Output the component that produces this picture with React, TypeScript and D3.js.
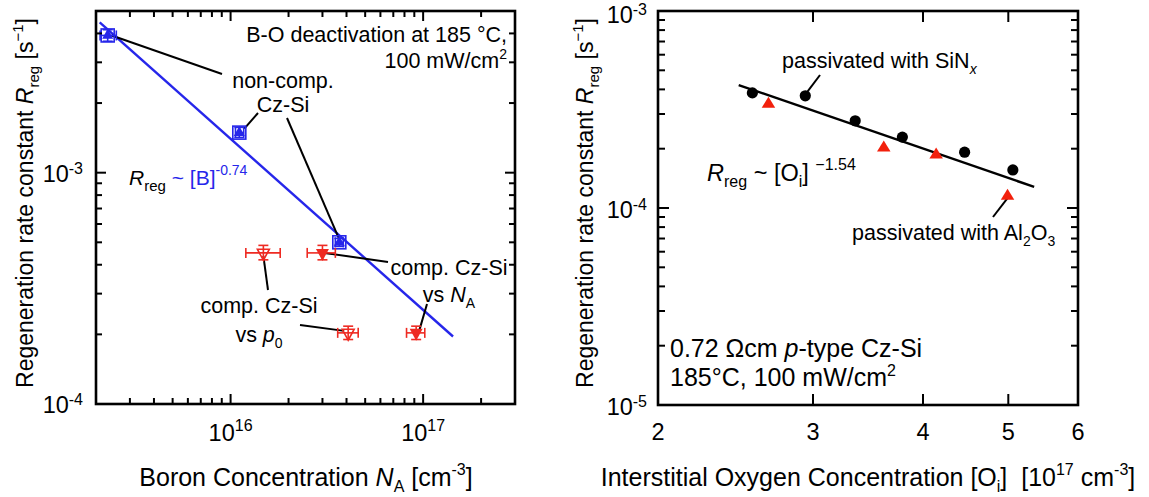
import React from "react";
import * as d3 from "d3";

// ---------- data: left panel (boron concentration dependence) ----------
const nonCompNA = [2.3e15, 1.11e16, 3.67e16];
const nonCompNALow = [2.1e15, 1.06e16, 3.5e16];
const nonCompNAHigh = [2.55e15, 1.17e16, 3.85e16];
const nonCompR = [3.92e-3, 1.49e-3, 5.0e-4];
const nonCompRLow = [3.7e-3, 1.42e-3, 4.8e-4];
const nonCompRHigh = [4.15e-3, 1.57e-3, 5.2e-4];

const compNA = [3.0e16, 9.2e16];
const compNALow = [2.5e16, 8.2e16];
const compNAHigh = [3.5e16, 1.02e17];
const compNAR = [4.5e-4, 2.03e-4];
const compNARLow = [4.2e-4, 1.9e-4];
const compNARHigh = [4.85e-4, 2.17e-4];

const compP0 = [1.48e16, 4.08e16];
const compP0Low = [1.2e16, 3.6e16];
const compP0High = [1.81e16, 4.6e16];
const compP0R = [4.5e-4, 2.03e-4];
const compP0RLow = [4.2e-4, 1.9e-4];
const compP0RHigh = [4.85e-4, 2.17e-4];

const boronFitExponent = -0.74;
const boronFitPrefactor = 9.7e8;
const boronFitRange = [2.09e15, 1.43e17];

const leftXDomain = [2e15, 3e17];
const leftYDomain = [1e-4, 5e-3];
const leftXTickLabels = [
  { v: 1e16, base: "10", exp: "16" },
  { v: 1e17, base: "10", exp: "17" },
];
const leftYTickLabels = [
  { v: 1e-3, base: "10", exp: "-3" },
  { v: 1e-4, base: "10", exp: "-4" },
];

// ---------- data: right panel (interstitial oxygen dependence) ----------
const sinxOi = [2.56, 2.94, 3.35, 3.79, 4.46, 5.06];
const sinxR = [3.84e-4, 3.71e-4, 2.77e-4, 2.29e-4, 1.92e-4, 1.56e-4];
const alOxOi = [2.67, 3.61, 4.14, 4.99];
const alOxR = [3.37e-4, 2.02e-4, 1.86e-4, 1.15e-4];

const oxygenFitExponent = -1.54;
const oxygenFitPrefactor = 1.694e-3;
const oxygenFitRange = [2.47, 5.35];

const rightXDomain = [2, 6];
const rightYDomain = [1e-5, 1e-3];
const rightXTicks = [3, 4, 5];
const rightXTickLabels = [2, 3, 4, 5, 6];
const rightYTickLabels = [
  { v: 1e-3, base: "10", exp: "-3" },
  { v: 1e-4, base: "10", exp: "-4" },
  { v: 1e-5, base: "10", exp: "-5" },
];

// ---------- style ----------
const FONT = "'Liberation Sans', Arial, Helvetica, sans-serif";
const BLUE = "#2626ea";
const RED = "#ee2a22";
const RED2 = "#f2200c";
const TICK_MAJOR = 10;
const TICK_MINOR = 6;
const TICK_FS = 23.5;
const TICK_SUP_FS = 16;
const AXIS_FS = 23;
const XLABEL_FS = 25;

type Box = { x0: number; x1: number; y0: number; y1: number };

function logTicks(domain: number[]) {
  const [lo, hi] = domain;
  const major: number[] = [];
  const minor: number[] = [];
  const eps = 1e-9;
  for (let e = Math.floor(Math.log10(lo)); e <= Math.ceil(Math.log10(hi)); e++) {
    for (let k = 1; k <= 9; k++) {
      const v = k * Math.pow(10, e);
      if (v < lo * (1 - eps) || v > hi * (1 + eps)) continue;
      (k === 1 ? major : minor).push(v);
    }
  }
  return { major, minor };
}

function Frame({ b }: { b: Box }) {
  return (
    <rect
      x={b.x0}
      y={b.y0}
      width={b.x1 - b.x0}
      height={b.y1 - b.y0}
      fill="none"
      stroke="#000"
      strokeWidth={2.6}
    />
  );
}

function TickMarks({
  b,
  xVals,
  yVals,
}: {
  b: Box;
  xVals: { x: number; len: number }[];
  yVals: { y: number; len: number }[];
}) {
  return (
    <g stroke="#000" strokeWidth={2}>
      {xVals.map((t, i) => (
        <g key={"x" + i}>
          <line x1={t.x} x2={t.x} y1={b.y1} y2={b.y1 - t.len} />
          <line x1={t.x} x2={t.x} y1={b.y0} y2={b.y0 + t.len} />
        </g>
      ))}
      {yVals.map((t, i) => (
        <g key={"y" + i}>
          <line x1={b.x0} x2={b.x0 + t.len} y1={t.y} y2={t.y} />
          <line x1={b.x1} x2={b.x1 - t.len} y1={t.y} y2={t.y} />
        </g>
      ))}
    </g>
  );
}

function triPath(cx: number, cy: number, w: number, h: number, down: boolean) {
  const s = down ? -1 : 1;
  return `M${cx},${cy - (s * 2 * h) / 3}L${cx - w / 2},${cy + (s * h) / 3}L${cx + w / 2},${cy + (s * h) / 3}Z`;
}

function ErrorBars({
  cx,
  cy,
  xl,
  xh,
  yl,
  yh,
  color,
}: {
  cx: number;
  cy: number;
  xl: number;
  xh: number;
  yl: number;
  yh: number;
  color: string;
}) {
  const cap = 5;
  return (
    <g stroke={color} strokeWidth={1.6} fill="none">
      <line x1={xl} x2={xh} y1={cy} y2={cy} />
      <line x1={xl} x2={xl} y1={cy - cap} y2={cy + cap} />
      <line x1={xh} x2={xh} y1={cy - cap} y2={cy + cap} />
      <line x1={cx} x2={cx} y1={yl} y2={yh} />
      <line x1={cx - cap} x2={cx + cap} y1={yl} y2={yl} />
      <line x1={cx - cap} x2={cx + cap} y1={yh} y2={yh} />
    </g>
  );
}

function YAxisTitle({ x, y }: { x: number; y: number }) {
  return (
    <text
      transform={`translate(${x},${y}) rotate(-90)`}
      fontFamily={FONT}
      fontSize={AXIS_FS}
      textAnchor="middle"
    >
      Regeneration rate constant <tspan fontStyle="italic">R</tspan>
      <tspan fontSize={15} dy={6}>reg</tspan>
      <tspan dy={-6}> [s</tspan>
      <tspan fontSize={15} dy={-10}>−1</tspan>
      <tspan dy={10}>]</tspan>
    </text>
  );
}

function LeftPanel() {
  const b: Box = { x0: 96, x1: 515, y0: 11, y1: 404 };
  const x = d3.scaleLog().domain(leftXDomain).range([b.x0, b.x1]);
  const y = d3.scaleLog().domain(leftYDomain).range([b.y1, b.y0]);
  const xt = logTicks(leftXDomain);
  const yt = logTicks(leftYDomain);
  const xMarks = [
    ...xt.major.map((v) => ({ x: x(v), len: TICK_MAJOR })),
    ...xt.minor.map((v) => ({ x: x(v), len: TICK_MINOR })),
  ];
  const yMarks = [
    ...yt.major.map((v) => ({ y: y(v), len: TICK_MAJOR })),
    ...yt.minor.map((v) => ({ y: y(v), len: TICK_MINOR })),
  ];

  const fit = d3
    .line<number>()
    .x((d) => x(d))
    .y((d) => y(boronFitPrefactor * Math.pow(d, boronFitExponent)));

  const leader = { stroke: "#000", strokeWidth: 2 };

  return (
    <g>
      {/* power-law fit */}
      <path d={fit(boronFitRange) || ""} stroke={BLUE} strokeWidth={2.4} fill="none" />

      {/* leader lines for annotations */}
      <line x1={x(nonCompNA[0]) + 4} y1={y(nonCompR[0])} x2={222} y2={74} {...leader} />
      <line x1={x(nonCompNA[1]) + 5} y1={y(nonCompR[1]) - 4} x2={258} y2={113} {...leader} />
      <line x1={287} y1={118} x2={x(nonCompNA[2])} y2={y(nonCompR[2]) - 3} {...leader} />
      <line x1={388} y1={262} x2={x(compNA[0]) + 2} y2={y(compNAR[0])} {...leader} />
      <line x1={427} y1={304} x2={x(compNA[1]) + 3} y2={y(compNAR[1]) - 2} {...leader} />
      <line x1={268} y1={290} x2={x(compP0[0])} y2={y(compP0R[0]) + 3} {...leader} />
      <line x1={300} y1={325} x2={x(compP0[1]) - 4} y2={y(compP0R[1]) - 2} {...leader} />

      {/* non-compensated Cz-Si */}
      {nonCompNA.map((v, i) => {
        const cx = x(v);
        const cy = y(nonCompR[i]);
        return (
          <g key={"nc" + i}>
            <ErrorBars
              cx={cx}
              cy={cy}
              xl={x(nonCompNALow[i])}
              xh={x(nonCompNAHigh[i])}
              yl={y(nonCompRLow[i])}
              yh={y(nonCompRHigh[i])}
              color={BLUE}
            />
            <rect x={cx - 6.5} y={cy - 6.5} width={13} height={13} fill="none" stroke={BLUE} strokeWidth={1.6} />
            <path d={triPath(cx, cy, 11, 10, false)} fill={BLUE} />
          </g>
        );
      })}

      {/* compensated Cz-Si vs p0 (open) */}
      {compP0.map((v, i) => {
        const cx = x(v);
        const cy = y(compP0R[i]);
        return (
          <g key={"p0" + i}>
            <ErrorBars
              cx={cx}
              cy={cy}
              xl={x(compP0Low[i])}
              xh={x(compP0High[i])}
              yl={y(compP0RLow[i])}
              yh={y(compP0RHigh[i])}
              color={RED}
            />
            <path d={triPath(cx, cy, 12, 11, true)} fill="none" stroke={RED} strokeWidth={1.6} />
          </g>
        );
      })}

      {/* compensated Cz-Si vs NA (filled) */}
      {compNA.map((v, i) => {
        const cx = x(v);
        const cy = y(compNAR[i]);
        return (
          <g key={"na" + i}>
            <ErrorBars
              cx={cx}
              cy={cy}
              xl={x(compNALow[i])}
              xh={x(compNAHigh[i])}
              yl={y(compNARLow[i])}
              yh={y(compNARHigh[i])}
              color={RED}
            />
            <path d={triPath(cx, cy, 13, 12, true)} fill={RED} />
          </g>
        );
      })}

      <Frame b={b} />
      <TickMarks b={b} xVals={xMarks} yVals={yMarks} />

      {/* tick labels */}
      <g fontFamily={FONT} fill="#000">
        {leftXTickLabels.map((t) => (
          <text key={t.exp} x={x(t.v)} y={441} fontSize={TICK_FS} textAnchor="middle">
            {t.base}
            <tspan fontSize={TICK_SUP_FS} dy={-10}>
              {t.exp}
            </tspan>
          </text>
        ))}
        {leftYTickLabels.map((t) => (
          <text key={t.exp} x={83} y={y(t.v) + 9} fontSize={TICK_FS} textAnchor="end">
            {t.base}
            <tspan fontSize={TICK_SUP_FS} dy={-8}>
              {t.exp}
            </tspan>
          </text>
        ))}
      </g>

      {/* axis titles */}
      <text x={306} y={486} fontFamily={FONT} fontSize={XLABEL_FS} textAnchor="middle">
        Boron Concentration{" "}
        <tspan fontStyle="italic">N</tspan>
        <tspan fontSize={16} dy={6}>A</tspan>
        <tspan dy={-6}> [cm</tspan>
        <tspan fontSize={16} dy={-11}>-3</tspan>
        <tspan dy={11}>]</tspan>
      </text>
      <YAxisTitle x={33} y={203} />

      {/* annotations */}
      <g fontFamily={FONT} fontSize={21.5} fill="#000">
        <text x={507} y={42} textAnchor="end">
          B-O deactivation at 185 °C,
        </text>
        <text x={507} y={68} textAnchor="end">
          100 mW/cm<tspan fontSize={14} dy={-9}>2</tspan>
        </text>
        <text x={283} y={88} textAnchor="middle">
          non-comp.
        </text>
        <text x={283} y={112} textAnchor="middle">
          Cz-Si
        </text>
        <text x={449} y={275} textAnchor="middle">
          comp. Cz-Si
        </text>
        <text x={449} y={302} textAnchor="middle">
          vs <tspan fontStyle="italic">N</tspan>
          <tspan fontSize={14} dy={6}>A</tspan>
        </text>
        <text x={259} y={313} textAnchor="middle">
          comp. Cz-Si
        </text>
        <text x={259} y={342} textAnchor="middle">
          vs <tspan fontStyle="italic">p</tspan>
          <tspan fontSize={14} dy={6}>0</tspan>
        </text>
        <text x={129} y={185} fontSize={21}>
          <tspan fontStyle="italic">R</tspan>
          <tspan fontSize={15} dy={6}>reg</tspan>
          <tspan dy={-6} fill={BLUE}> ~ [B]</tspan>
          <tspan fill={BLUE} fontSize={14} dy={-10}>-0.74</tspan>
        </text>
      </g>
    </g>
  );
}

function RightPanel() {
  const b: Box = { x0: 658, x1: 1078, y0: 11, y1: 405 };
  const x = d3.scaleLog().domain(rightXDomain).range([b.x0, b.x1]);
  const y = d3.scaleLog().domain(rightYDomain).range([b.y1, b.y0]);
  const yt = logTicks(rightYDomain);
  const xMarks = rightXTicks.map((v) => ({ x: x(v), len: TICK_MAJOR + 1 }));
  const yMarks = [
    ...yt.major.map((v) => ({ y: y(v), len: TICK_MAJOR + 1 })),
    ...yt.minor.map((v) => ({ y: y(v), len: TICK_MINOR + 1 })),
  ];

  const fit = d3
    .line<number>()
    .x((d) => x(d))
    .y((d) => y(oxygenFitPrefactor * Math.pow(d, oxygenFitExponent)));

  const leader = { stroke: "#000", strokeWidth: 2 };

  return (
    <g>
      <path d={fit(oxygenFitRange) || ""} stroke="#000" strokeWidth={2.4} fill="none" />

      <line x1={820} y1={75} x2={x(sinxOi[1]) + 2} y2={y(sinxR[1]) - 4} {...leader} />
      <line x1={993} y1={217} x2={x(alOxOi[3])} y2={y(alOxR[3]) + 2} {...leader} />

      {sinxOi.map((v, i) => (
        <circle key={"s" + i} cx={x(v)} cy={y(sinxR[i])} r={5.6} fill="#000" />
      ))}
      {alOxOi.map((v, i) => (
        <path key={"a" + i} d={triPath(x(v), y(alOxR[i]), 13.5, 11, false)} fill={RED2} />
      ))}

      <Frame b={b} />
      <TickMarks b={b} xVals={xMarks} yVals={yMarks} />

      <g fontFamily={FONT} fill="#000">
        {rightXTickLabels.map((v) => (
          <text key={v} x={x(v)} y={440} fontSize={TICK_FS} textAnchor="middle">
            {v}
          </text>
        ))}
        {rightYTickLabels.map((t, i) => (
          <text
            key={t.exp}
            x={647}
            y={y(t.v) + (i === 0 ? 12 : 10)}
            fontSize={TICK_FS}
            textAnchor="end"
          >
            {t.base}
            <tspan fontSize={TICK_SUP_FS} dy={-8}>
              {t.exp}
            </tspan>
          </text>
        ))}
      </g>

      <text x={868} y={486} fontFamily={FONT} fontSize={XLABEL_FS} textAnchor="middle">
        Interstitial Oxygen Concentration [O
        <tspan fontSize={16} dy={6}>i</tspan>
        <tspan dy={-6}>]{"\u00a0\u00a0"}[10</tspan>
        <tspan fontSize={16} dy={-11}>17</tspan>
        <tspan dy={11}> cm</tspan>
        <tspan fontSize={16} dy={-11}>-3</tspan>
        <tspan dy={11}>]</tspan>
      </text>
      <YAxisTitle x={593} y={203} />

      <g fontFamily={FONT} fontSize={21.5} fill="#000">
        <text x={782} y={68}>
          passivated with SiN<tspan fontSize={14} dy={6} fontStyle="italic">x</tspan>
        </text>
        <text x={852} y={240}>
          passivated with Al<tspan fontSize={14} dy={6}>2</tspan>
          <tspan dy={-6}>O</tspan>
          <tspan fontSize={14} dy={6}>3</tspan>
        </text>
        <text x={707} y={181} fontSize={23.5}>
          <tspan fontStyle="italic">R</tspan>
          <tspan fontSize={16} dy={6}>reg</tspan>
          <tspan dy={-6}> ~ [O</tspan>
          <tspan fontSize={16} dy={6}>i</tspan>
          <tspan dy={-6}>] </tspan>
          <tspan fontSize={16} dy={-11}>−1.54</tspan>
        </text>
        <text x={670} y={357} fontSize={25}>
          0.72 Ωcm <tspan fontStyle="italic">p</tspan>-type Cz-Si
        </text>
        <text x={670} y={386} fontSize={25}>
          185°C, 100 mW/cm<tspan fontSize={16} dy={-10}>2</tspan>
        </text>
      </g>
    </g>
  );
}

export default function App() {
  return (
    <svg
      width={1149}
      height={497}
      viewBox="0 0 1149 497"
      style={{ position: "absolute", left: 0, top: 0, background: "#fff" }}
    >
      <rect width={1149} height={497} fill="#fff" />
      <LeftPanel />
      <RightPanel />
    </svg>
  );
}
